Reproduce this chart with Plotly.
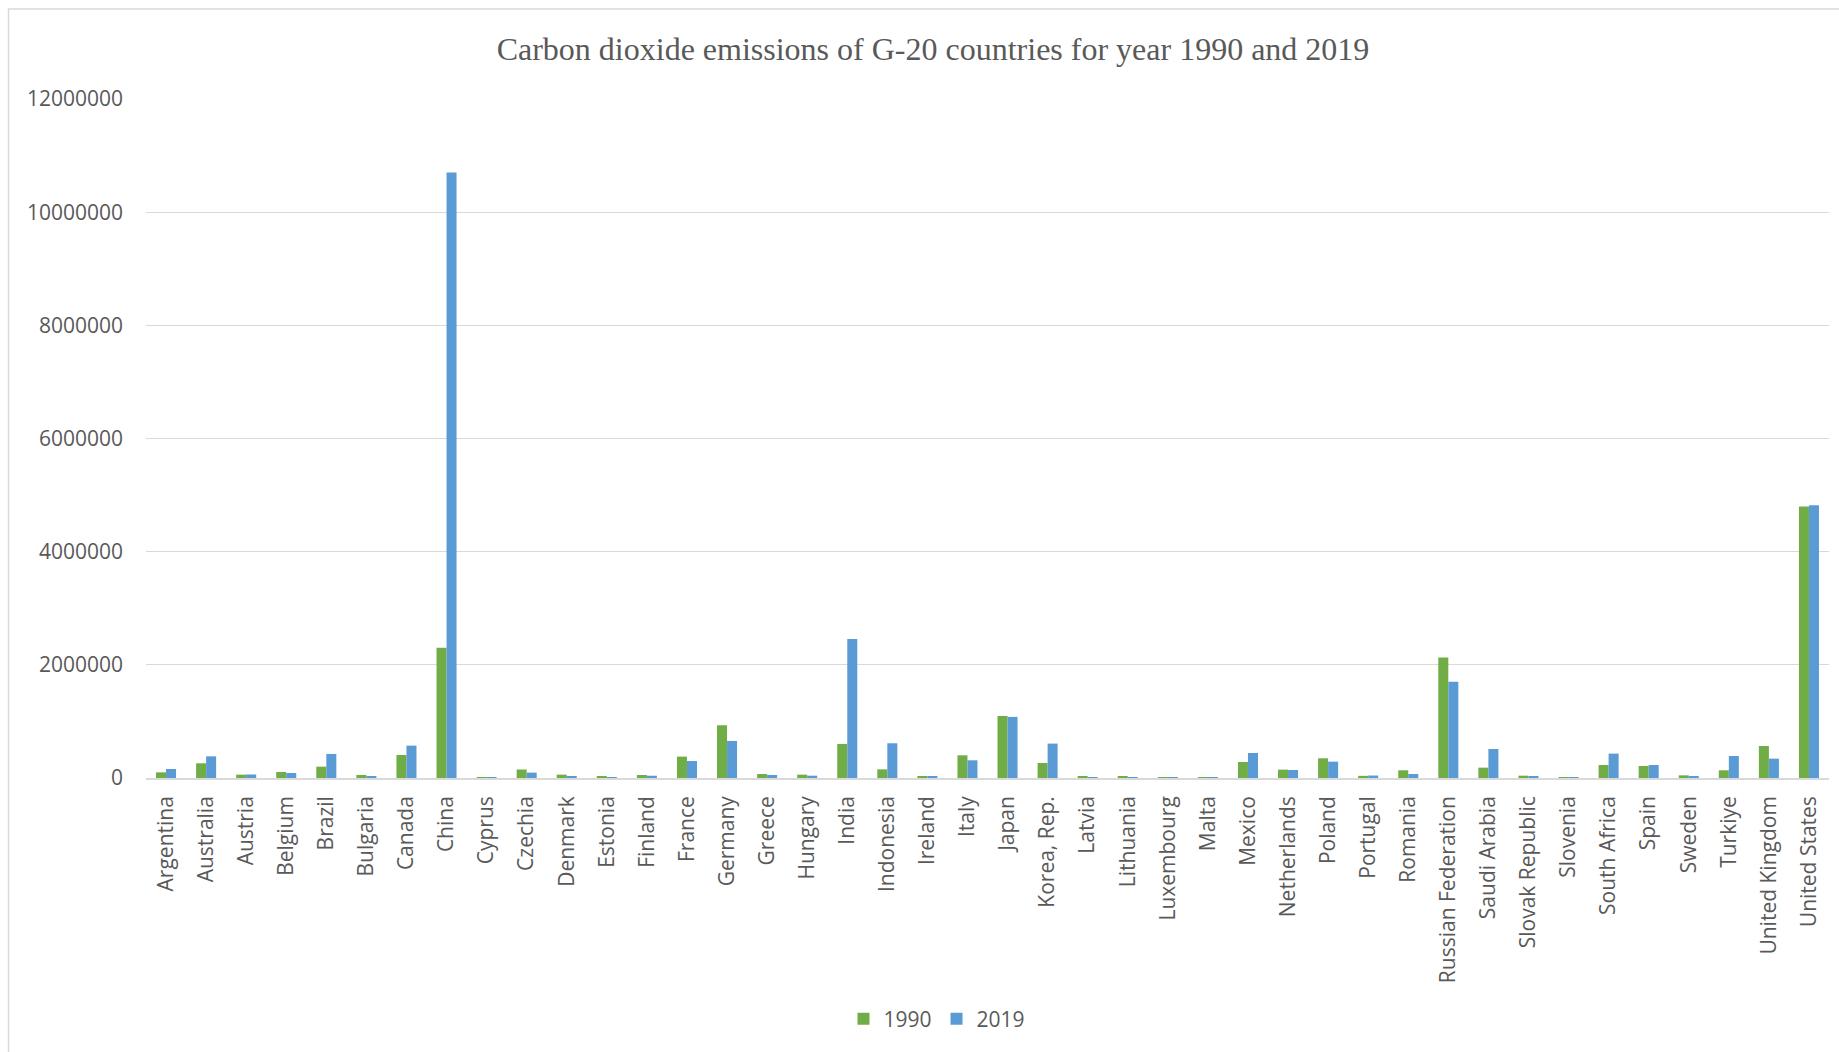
import plotly.graph_objects as go

countries = ["Argentina", "Australia", "Austria", "Belgium", "Brazil", "Bulgaria", "Canada", "China",
             "Cyprus", "Czechia", "Denmark", "Estonia", "Finland", "France", "Germany", "Greece",
             "Hungary", "India", "Indonesia", "Ireland", "Italy", "Japan", "Korea, Rep.", "Latvia",
             "Lithuania", "Luxembourg", "Malta", "Mexico", "Netherlands", "Poland", "Portugal",
             "Romania", "Russian Federation", "Saudi Arabia", "Slovak Republic", "Slovenia",
             "South Africa", "Spain", "Sweden", "Turkiye", "United Kingdom", "United States"]

em_1990 = [100000, 260000, 59000, 106000, 200000, 53000, 407000, 2300000,
           4000, 150000, 59000, 35000, 53000, 378000, 932000, 71000,
           59000, 602000, 153000, 35000, 401000, 1097000, 265000, 18000,
           35000, 11000, 2500, 283000, 148000, 348000, 38000,
           136000, 2130000, 183000, 41000, 13000,
           230000, 212000, 47000, 136000, 566000, 4800000]

em_2019 = [159000, 383000, 62000, 88000, 425000, 35000, 572000, 10700000,
           7000, 95000, 30000, 10000, 40000, 300000, 655000, 53000,
           41000, 2455000, 614000, 35000, 313000, 1080000, 608000, 7000,
           12000, 9000, 1600, 442000, 142000, 289000, 44000,
           71000, 1700000, 513000, 30000, 13000,
           431000, 230000, 35000, 389000, 342000, 4820000]

y_ticks = [0, 2000000, 4000000, 6000000, 8000000, 10000000, 12000000]

W, H = 1839, 1052
L, R, T, B = 146, 1829, 99, 778
pw, ph = R - L, B - T

def px(x):
    return (x - L) / pw

def py(y):
    return (B - y) / ph

font_c = "#595959"
fam = "Open Sans"

fig = go.Figure()
fig.add_trace(go.Bar(x=countries, y=em_1990, name="1990", marker=dict(color="#70AD47", line=dict(width=0))))
fig.add_trace(go.Bar(x=countries, y=em_2019, name="2019", marker=dict(color="#5B9BD5", line=dict(width=0))))

fig.update_layout(
    width=W, height=H,
    margin=dict(l=L, r=W - R, t=T, b=H - B, pad=0),
    paper_bgcolor="white", plot_bgcolor="white",
    barmode="group", bargap=0.5, bargroupgap=0,
    title=dict(text="Carbon dioxide emissions of G-20 countries for year 1990 and 2019",
               x=933 / W, xanchor="center", xref="container",
               y=1 - 49 / H, yanchor="middle", yref="container",
               font=dict(family="Liberation Serif", size=32, color=font_c)),
    font=dict(family=fam, size=21, color=font_c),
    showlegend=True,
    legend=dict(orientation="h", x=px(937), xanchor="center", y=py(1019), yanchor="middle",
                font=dict(family=fam, size=21, color=font_c), traceorder="normal",
                itemwidth=30, bgcolor="rgba(0,0,0,0)"),
    xaxis=dict(tickangle=-90, showgrid=False, showline=True, linecolor="#d9d9d9", linewidth=1.5,
               ticks="", ticklabelstandoff=8, tickfont=dict(family=fam, size=21, color=font_c),
               range=[-0.5, len(countries) - 0.5], fixedrange=True),
    yaxis=dict(range=[0, 12000000], tickvals=y_ticks, tickformat="d", showgrid=True,
               gridcolor="#d9d9d9", gridwidth=1.3, zeroline=False, showline=False, ticks="",
               ticklabelstandoff=22, tickfont=dict(family=fam, size=21, color=font_c)),
    shapes=[dict(type="rect", xref="paper", yref="paper",
                 x0=px(8.5), x1=px(1860), y0=py(1070), y1=py(9),
                 line=dict(color="#d9d9d9", width=1.5), fillcolor="rgba(0,0,0,0)", layer="above")],
)

fig.write_html("out.html")
